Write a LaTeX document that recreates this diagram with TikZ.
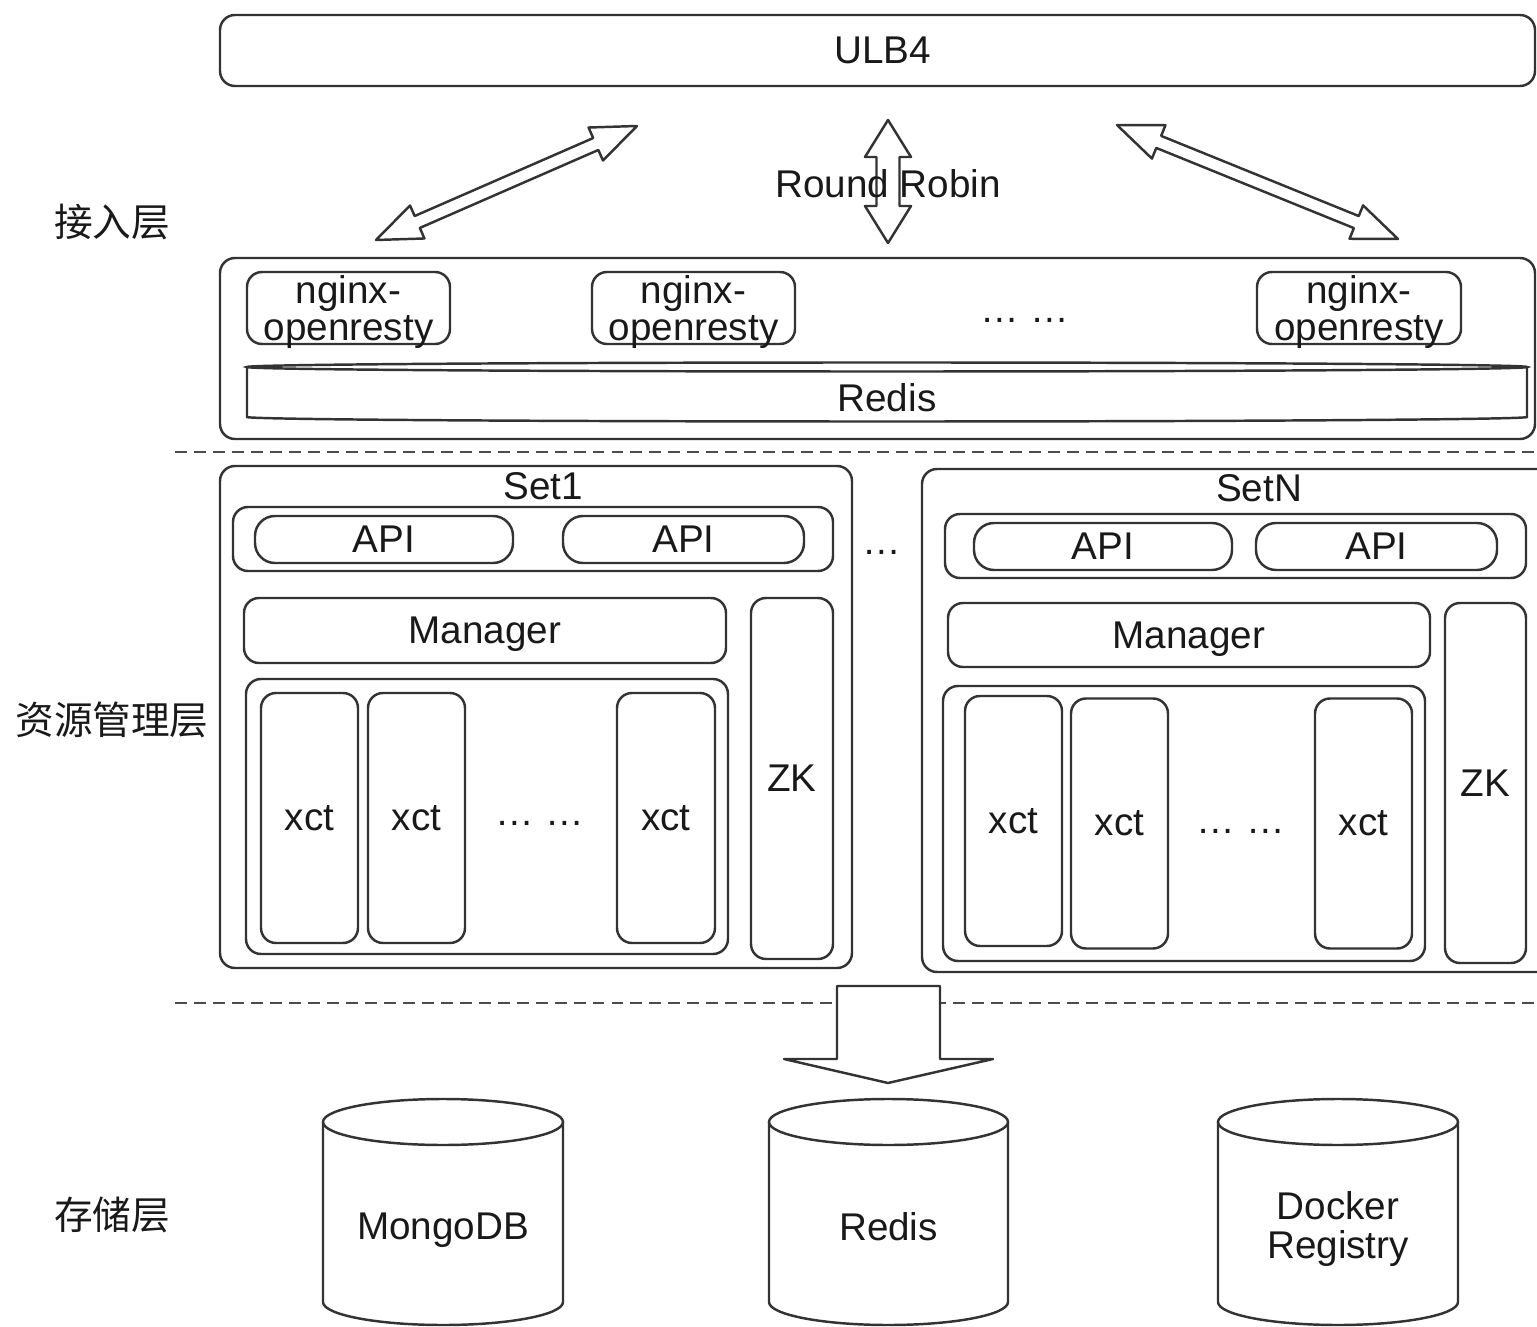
\documentclass[tikz,border=0pt]{standalone}
\usepackage{fontspec}
\setmainfont{Liberation Sans}
\newfontfamily\cjk{Noto Sans CJK SC}
\usetikzlibrary{calc}

% hollow double arrow: from, to, shaft half width, head half width, head length
\newcommand\fatarrow[5]{%
\draw[fat] (#1) -- ($(#1)!#5!(#2)!#4!90:(#2)$) -- ($(#1)!#5!(#2)!#3!90:(#2)$)
 -- ($(#2)!#5!(#1)!#3!-90:(#1)$) -- ($(#2)!#5!(#1)!#4!-90:(#1)$) -- (#2)
 -- ($(#2)!#5!(#1)!#4!90:(#1)$) -- ($(#2)!#5!(#1)!#3!90:(#1)$)
 -- ($(#1)!#5!(#2)!#3!-90:(#2)$) -- ($(#1)!#5!(#2)!#4!-90:(#2)$) -- cycle;}
% database cylinder: x centre, top y, bottom y, x radius (mm), y radius (mm)
\newcommand\dbcyl[5]{%
\draw[db] (#1,#2) ellipse [x radius=#4mm, y radius=#5mm];
\draw[db] ($(#1,#2)+(-#4mm,0)$) -- ($(#1,#3)+(-#4mm,0)$)
 arc[start angle=180, end angle=360, x radius=#4mm, y radius=#5mm] -- ($(#1,#2)+(#4mm,0)$);}

\begin{document}
\begin{tikzpicture}[x=0.1mm, y=-0.1mm, font=\fontsize{11}{10.5}\selectfont, text=black!90,
  every node/.append style={text depth=0pt},
  box/.style={draw=black!80, line width=0.7pt, rounded corners=1.5mm, inner sep=0pt},
  db/.style={draw=black!80, line width=0.7pt},
  fat/.style={draw=black!80, line width=0.7pt, line join=round},
  sep/.style={draw=black!70, line width=0.8pt, dash pattern=on 3.4pt off 2pt},
  layer/.style={font=\cjk\fontsize{11}{11}\selectfont}]
\useasboundingbox (0,0) rectangle (1537,1327);
\clip (0,0) rectangle (1537,1327);

% layer names
\node[layer] (lacc) at (112,220) {接入层};
\node[layer] (lres) at (112,718) {资源管理层};
\node[layer] (lsto) at (112,1213) {存储层};

% access layer
\node[box, minimum width=131.5mm, minimum height=7.1mm] (ulb) at (877.5,50.5) {\hspace*{1mm}ULB4};
\coordinate (la) at (376,240);
\coordinate (lb) at (637,126);
\coordinate (ma) at (888,120);
\coordinate (mb) at (888,243);
\coordinate (ra) at (1117,125);
\coordinate (rb) at (1398,239);
\fatarrow{la}{lb}{0.65mm}{1.8mm}{4.5mm}
\fatarrow{ma}{mb}{1.15mm}{2.3mm}{3.7mm}
\fatarrow{ra}{rb}{0.65mm}{1.8mm}{4.5mm}
\node (rr) at (888,183) {Round Robin};
\node[box, minimum width=131.5mm, minimum height=18.1mm] (acc) at (877.5,348.5) {};
\node[box, minimum width=20.3mm, minimum height=7.2mm, align=center] (ng1) at (348.5,308) {nginx-\\openresty};
\node[box, minimum width=20.3mm, minimum height=7.2mm, align=center] (ng2) at (693.5,308) {nginx-\\openresty};
\node[box, minimum width=20.4mm, minimum height=7.2mm, align=center] (ng3) at (1359,308) {nginx-\\openresty};
\node (ngdots) at (1025,320) {… …};
\dbcyl{887}{367}{417}{64}{0.45}
\node (redis) at (887,397) {Redis};

\draw[sep] (175,452) -- (1537,452);

% resource layer, Set1
\node[box, minimum width=63.2mm, minimum height=50.2mm] (set1) at (536,717) {};
\node (set1t) at (543,486) {Set1};
\node[box, minimum width=60mm, minimum height=6.4mm] (apis1) at (533,539) {};
\node[box, rounded corners=2mm, minimum width=25.8mm, minimum height=4.7mm] (api11) at (384,539.5) {API};
\node[box, rounded corners=2mm, minimum width=24.1mm, minimum height=4.7mm] (api12) at (683.5,539.5) {API};
\node[box, minimum width=48.2mm, minimum height=6.5mm] (mgr1) at (485,630.5) {Manager};
\node[box, minimum width=8.2mm, minimum height=36.1mm] (zk1) at (792,778.5) {ZK};
\node[box, minimum width=48.2mm, minimum height=27.5mm] (pool1) at (487,816.5) {};
\node[box, minimum width=9.7mm, minimum height=25mm] (xct11) at (309.5,818) {xct};
\node[box, minimum width=9.7mm, minimum height=25mm] (xct12) at (416.5,818) {xct};
\node[box, minimum width=9.8mm, minimum height=25mm] (xct13) at (666,818) {xct};
\node (xdots1) at (540,823) {… …};
\node (setdots) at (882,552) {…};

% resource layer, SetN
\node[box, minimum width=63.8mm, minimum height=50.3mm] (setn) at (1241,720.5) {};
\node (setnt) at (1259,488) {SetN};
\node[box, minimum width=58.1mm, minimum height=6.4mm] (apisn) at (1235.5,546) {};
\node[box, rounded corners=2mm, minimum width=25.8mm, minimum height=4.7mm] (apin1) at (1103,546.5) {API};
\node[box, rounded corners=2mm, minimum width=24.1mm, minimum height=4.7mm] (apin2) at (1376.5,546.5) {API};
\node[box, minimum width=48.2mm, minimum height=6.4mm] (mgrn) at (1189,635) {Manager};
\node[box, minimum width=8.1mm, minimum height=36mm] (zkn) at (1485.5,783) {ZK};
\node[box, minimum width=48.2mm, minimum height=27.5mm] (pooln) at (1184,823.5) {};
\node[box, minimum width=9.7mm, minimum height=25mm] (xctn1) at (1013.5,821) {xct};
\node[box, minimum width=9.7mm, minimum height=25mm] (xctn2) at (1119.5,823.5) {xct};
\node[box, minimum width=9.7mm, minimum height=25mm] (xctn3) at (1363.5,823.5) {xct};
\node (xdotsn) at (1241,831) {… …};

\draw[sep] (175,1003) -- (1537,1003);
\filldraw[fat, fill=white] (837,986) -- (940,986) -- (940,1059) -- (993,1059) -- (888,1083)
  -- (784,1059) -- (837,1059) -- cycle;

% storage layer
\dbcyl{443}{1122}{1302}{12}{2.3}
\node (mongo) at (443,1226) {MongoDB};
\dbcyl{888.5}{1122}{1302}{11.95}{2.3}
\node (rdb) at (888.5,1226) {Redis};
\dbcyl{1338}{1122}{1302}{12}{2.3}
\node[align=center, font=\fontsize{11}{11.2}\selectfont] (dock) at (1338,1225) {Docker\\Registry};
\end{tikzpicture}
\end{document}
